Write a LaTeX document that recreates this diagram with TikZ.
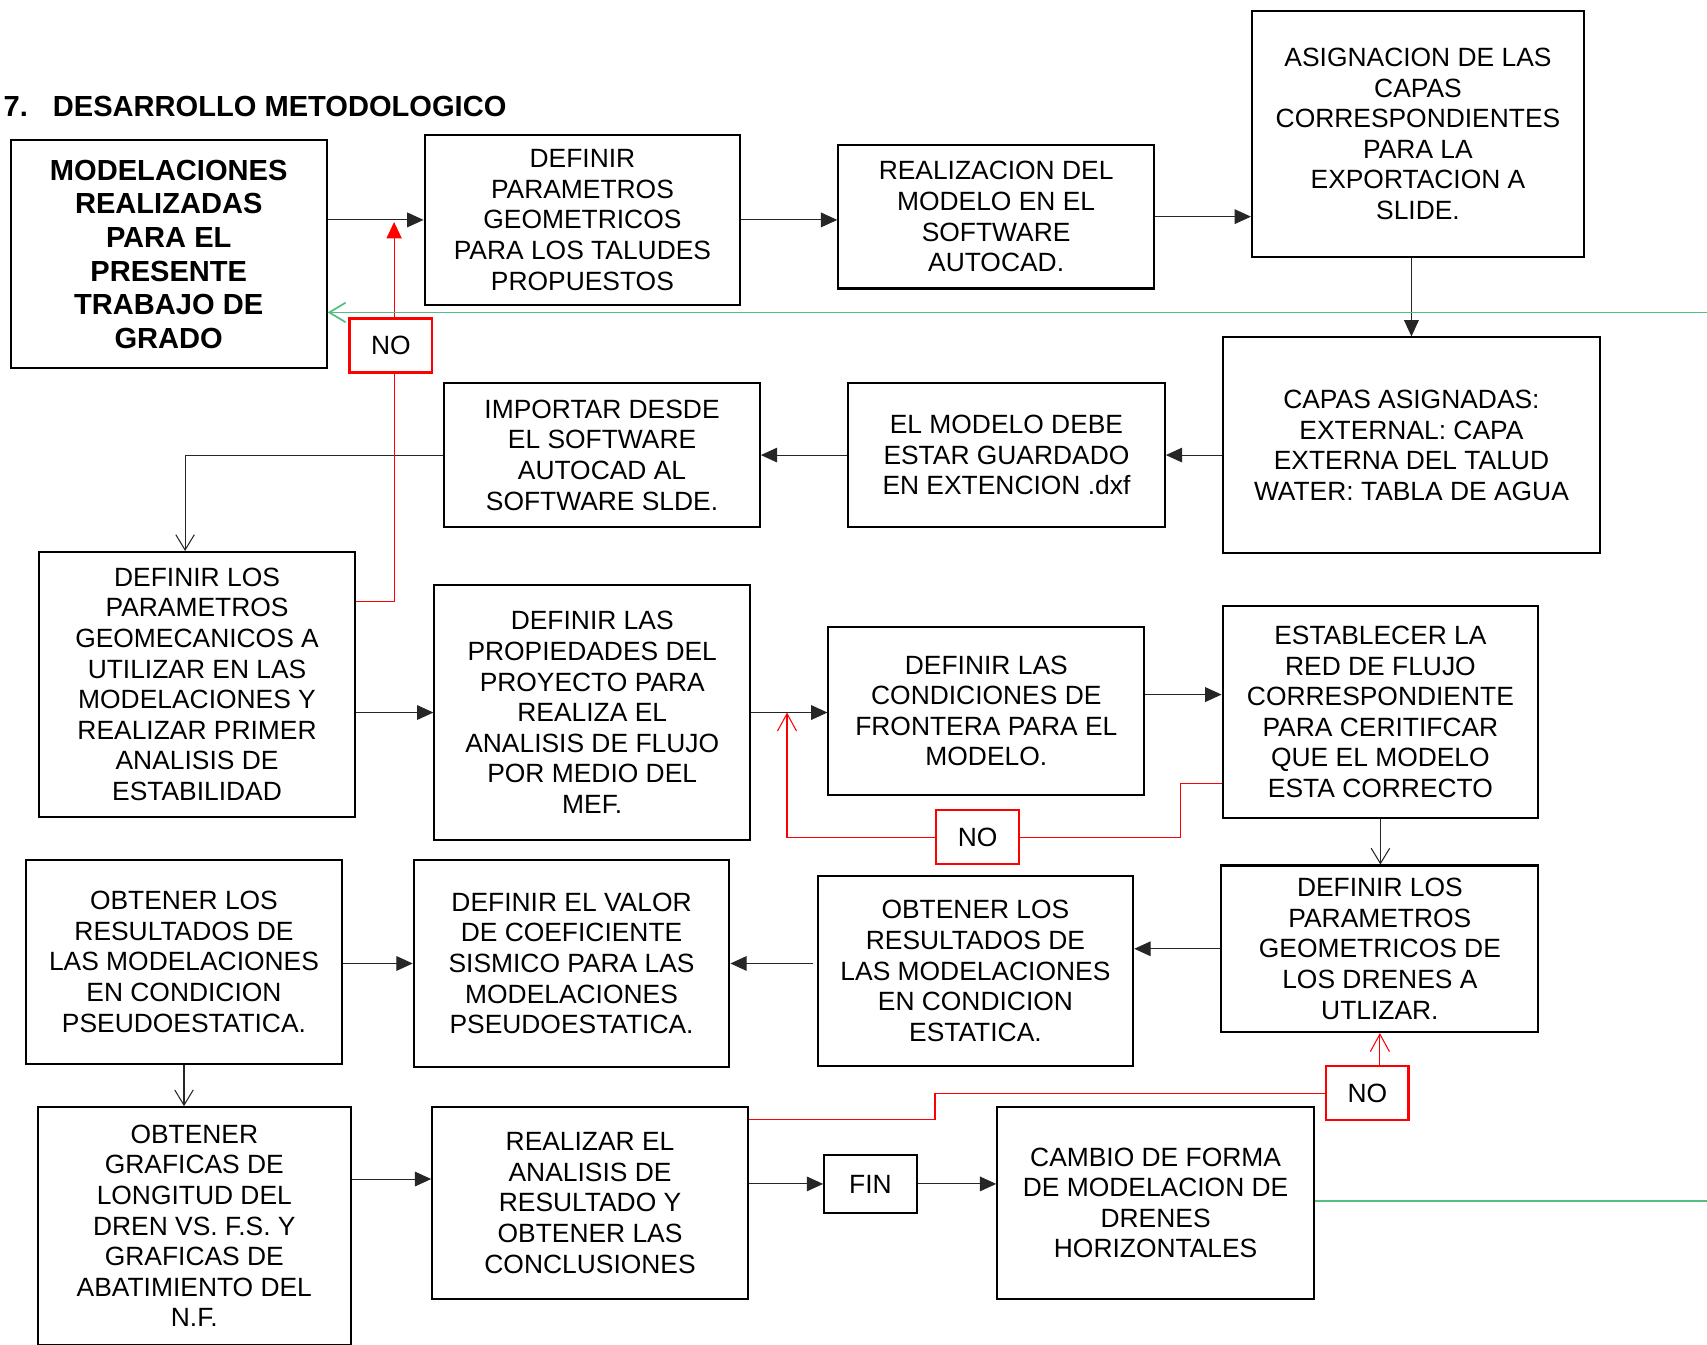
\documentclass[tikz,border=0pt]{standalone}
\usepackage{fontspec}
\setmainfont{Liberation Sans}
\usetikzlibrary{arrows.meta}
\definecolor{flowgreen}{RGB}{82,190,128}
\begin{document}
\begin{tikzpicture}
  \tikzstyle{box}=[draw, line width=1.05pt, align=center, inner sep=0pt, font=\fontsize{13.8}{16}\selectfont]
  \tikzstyle{bold}=[font=\fontsize{15.2}{17.6}\selectfont\bfseries]
  \tikzstyle{nobox}=[draw=red, line width=1.3pt, inner sep=0pt, minimum width=1.52cm, minimum height=0.99cm, font=\fontsize{13.8}{16}\selectfont]
  \tikzstyle{arr}=[draw=black!85, line width=0.55pt, -{Triangle[length=0.3cm,width=0.27cm]}]
  \tikzstyle{oarr}=[draw=black!85, line width=0.55pt, -{Straight Barb[length=0.28cm,width=0.34cm]}]
  \tikzstyle{rarr}=[draw=red, line width=0.55pt, -{Triangle[length=0.3cm,width=0.28cm]}]
  \tikzstyle{roarr}=[draw=red, line width=0.55pt, -{Straight Barb[length=0.32cm,width=0.35cm]}]
  \tikzstyle{rline}=[draw=red, line width=0.55pt]
  \tikzstyle{gline}=[draw=flowgreen, line width=0.9pt]

  \useasboundingbox (0,0) rectangle (31.36,-24.70);

  \node[anchor=west, inner sep=0pt, bold] (title) at (0.06,-1.96) {7.\hspace{0.46cm}DESARROLLO METODOLOGICO};

  \node[box, bold, minimum width=5.80cm, minimum height=4.18cm] (mod)      at (3.10,-4.67)  {MODELACIONES\\REALIZADAS\\PARA EL\\PRESENTE\\TRABAJO DE\\GRADO};
  \node[box, minimum width=5.80cm, minimum height=3.12cm]       (geom)     at (10.70,-4.04) {DEFINIR\\PARAMETROS\\GEOMETRICOS\\PARA LOS TALUDES\\PROPUESTOS};
  \node[box, minimum width=5.80cm, minimum height=2.64cm]       (autocad)  at (18.30,-3.98) {REALIZACION DEL\\MODELO EN EL\\SOFTWARE\\AUTOCAD.};
  \node[box, minimum width=6.10cm, minimum height=4.52cm]       (asign)    at (26.05,-2.46) {ASIGNACION DE LAS\\CAPAS\\CORRESPONDIENTES\\PARA LA\\EXPORTACION A\\SLIDE.};
  \node[box, minimum width=6.94cm, minimum height=3.96cm]       (capas)    at (25.93,-8.18) {CAPAS ASIGNADAS:\\EXTERNAL: CAPA\\EXTERNA DEL TALUD\\WATER: TABLA DE AGUA};
  \node[box, minimum width=5.82cm, minimum height=2.64cm]       (dxf)      at (18.49,-8.36) {EL MODELO DEBE\\ESTAR GUARDADO\\EN EXTENCION .dxf};
  \node[box, minimum width=5.80cm, minimum height=2.64cm]       (importar) at (11.06,-8.36) {IMPORTAR DESDE\\EL SOFTWARE\\AUTOCAD AL\\SOFTWARE SLDE.};
  \node[box, minimum width=5.80cm, minimum height=4.86cm]       (geomec)   at (3.62,-12.57) {DEFINIR LOS\\PARAMETROS\\GEOMECANICOS A\\UTILIZAR EN LAS\\MODELACIONES Y\\REALIZAR PRIMER\\ANALISIS DE\\ESTABILIDAD};
  \node[box, minimum width=5.80cm, minimum height=4.70cm]       (prop)     at (10.88,-13.09) {DEFINIR LAS\\PROPIEDADES DEL\\PROYECTO PARA\\REALIZA EL\\ANALISIS DE FLUJO\\POR MEDIO DEL\\MEF.};
  \node[box, minimum width=5.80cm, minimum height=3.08cm]       (cond)     at (18.12,-13.06) {DEFINIR LAS\\CONDICIONES DE\\FRONTERA PARA EL\\MODELO.};
  \node[box, minimum width=5.80cm, minimum height=3.88cm]       (red)      at (25.36,-13.08) {ESTABLECER LA\\RED DE FLUJO\\CORRESPONDIENTE\\PARA CERITIFCAR\\QUE EL MODELO\\ESTA CORRECTO};
  \node[box, minimum width=5.82cm, minimum height=3.06cm]       (drenes)   at (25.35,-17.43) {DEFINIR LOS\\PARAMETROS\\GEOMETRICOS DE\\LOS DRENES A\\UTLIZAR.};
  \node[box, minimum width=5.80cm, minimum height=3.48cm]       (estat)    at (17.92,-17.84) {OBTENER LOS\\RESULTADOS DE\\LAS MODELACIONES\\EN CONDICION\\ESTATICA.};
  \node[box, minimum width=5.80cm, minimum height=3.80cm]       (sism)     at (10.50,-17.70) {DEFINIR EL VALOR\\DE COEFICIENTE\\SISMICO PARA LAS\\MODELACIONES\\PSEUDOESTATICA.};
  \node[box, minimum width=5.80cm, minimum height=3.74cm]       (pseudo)   at (3.38,-17.67) {OBTENER LOS\\RESULTADOS DE\\LAS MODELACIONES\\EN CONDICION\\PSEUDOESTATICA.};
  \node[box, minimum width=5.74cm, minimum height=4.36cm]       (graf)     at (3.57,-22.52) {OBTENER\\GRAFICAS DE\\LONGITUD DEL\\DREN VS. F.S. Y\\GRAFICAS DE\\ABATIMIENTO DEL\\N.F.};
  \node[box, minimum width=5.80cm, minimum height=3.52cm]       (concl)    at (10.84,-22.10) {REALIZAR EL\\ANALISIS DE\\RESULTADO Y\\OBTENER LAS\\CONCLUSIONES};
  \node[box, minimum width=1.70cm, minimum height=1.06cm]       (fin)      at (15.99,-21.75) {FIN};
  \node[box, minimum width=5.82cm, minimum height=3.52cm]       (cambio)   at (21.23,-22.10) {CAMBIO DE FORMA\\DE MODELACION DE\\DRENES\\HORIZONTALES};

  \node[nobox] (no1) at (7.18,-6.35)  {NO};
  \node[nobox] (no2) at (17.96,-15.38) {NO};
  \node[nobox] (no3) at (25.12,-20.08) {NO};

  \coordinate (green1) at (31.36,-5.74);
  \coordinate (green2) at (31.36,-22.06);
  \coordinate (condout) at ([yshift=0.30cm]cond.east);
  \coordinate (conclin) at ([yshift=0.44cm]concl.west);
  \coordinate (geomout) at ([yshift=-0.92cm]geomec.north east);
  \coordinate (redout)  at ([yshift=0.64cm]red.south west);
  \coordinate (conclout) at ([yshift=-0.24cm]concl.north east);
  \coordinate (noup)    at ([xshift=0.06cm]no1.south);

  \draw[arr]  (mod.east |- geom.west) -- (geom.west);
  \draw[arr]  (geom.east) -- (geom.east -| autocad.west);
  \draw[arr]  (autocad.east) -- (autocad.east -| asign.west);
  \draw[arr]  (capas.north |- asign.south) -- (capas.north);
  \draw[arr]  (capas.west |- dxf.east) -- (dxf.east);
  \draw[arr]  (dxf.west) -- (importar.east);
  \draw[oarr] (importar.west) -| ([xshift=-0.22cm]geomec.north);
  \draw[arr]  (geomec.east |- prop.west) -- (prop.west);
  \draw[arr]  (prop.east) -- (prop.east -| cond.west);
  \draw[arr]  (condout) -- (condout -| red.west);
  \draw[oarr] (red.south) -- (red.south |- drenes.north);
  \draw[arr]  (drenes.west) -- (drenes.west -| estat.east);
  \draw[arr]  ([xshift=-0.06cm]estat.west |- sism.east) -- (sism.east);
  \draw[arr]  (pseudo.east |- sism.west) -- (sism.west);
  \draw[oarr] (pseudo.south) -- (pseudo.south |- graf.north);
  \draw[arr]  (graf.east |- conclin) -- (conclin);
  \draw[arr]  (concl.east |- fin.west) -- (fin.west);
  \draw[arr]  (fin.east) -- (fin.east -| cambio.west);

  \draw[rline] (geomout) -| (noup);
  \draw[rarr]  (noup |- no1.north) -- ([yshift=-0.04cm]noup |- geom.west);
  \draw[rline] (redout) -- ++(-0.76,0) |- (no2.east);
  \draw[roarr] (no2.west) -| ([xshift=0.66cm]prop.east);
  \draw[rline] (conclout) -- (conclout -| no2.west) |- (no3.west);
  \draw[roarr] (drenes.south |- no3.north) -- (drenes.south);

  \draw[gline, -{Straight Barb[length=0.3cm,width=0.36cm]}] (green1) -- (green1 -| mod.east);
  \draw[gline] (cambio.east |- green2) -- (green2);
\end{tikzpicture}
\end{document}
